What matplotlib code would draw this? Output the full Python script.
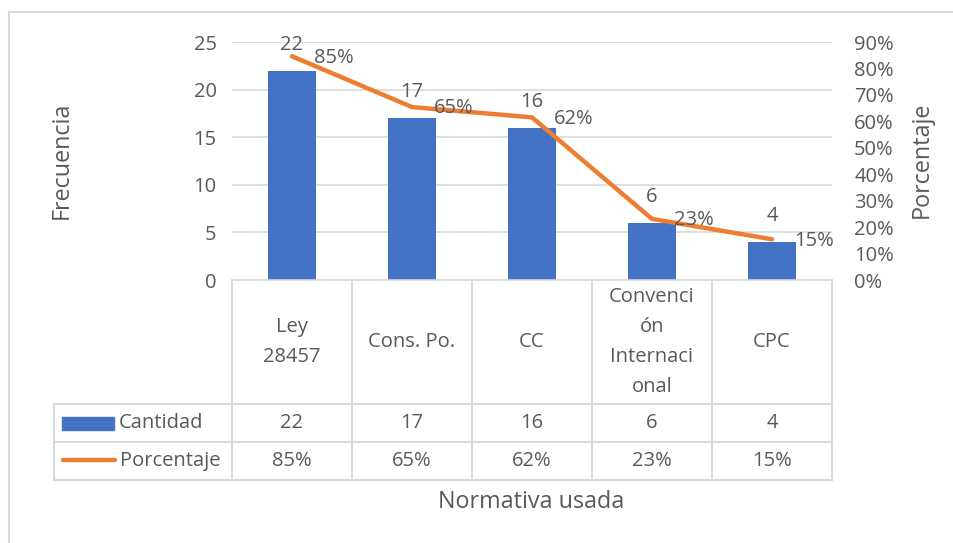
import numpy as np
import matplotlib.pyplot as plt
from matplotlib.lines import Line2D
from matplotlib.patches import Rectangle
from matplotlib.ticker import FuncFormatter

# data
categorias = ['Ley\n28457', 'Cons. Po.', 'CC', 'Convenci\nón\nInternaci\nonal', 'CPC']
cantidad = [22, 17, 16, 6, 4]
porcentaje = [0.846, 0.654, 0.615, 0.231, 0.154]
etiq_cant = ['22', '17', '16', '6', '4']
etiq_pct = ['85%', '65%', '62%', '23%', '15%']

AZUL = '#4472C4'
NARANJA = '#ED7D31'
GRIS_TXT = '#595959'
GRIS_LIN = '#D9D9D9'
FS = 14.5      # ticks, labels, table
FS_TIT = 16.8  # axis titles

plt.rcParams['font.family'] = ['Open Sans', 'DejaVu Sans']
plt.rcParams['text.color'] = GRIS_TXT

W, H = 954, 543
fig = plt.figure(figsize=(W / 100, H / 100), dpi=100)


def fx(px):
    return px / W


def fy(py):
    return 1 - py / H


# outer chart frame (left and top edges visible)
fig.add_artist(Line2D([fx(9), fx(9)], [fy(12), 0], color=GRIS_LIN, lw=1.5))
fig.add_artist(Line2D([fx(9), 1], [fy(12), fy(12)], color=GRIS_LIN, lw=1.5))

# main plot
ax = fig.add_axes([fx(232), fy(280), fx(832) - fx(232), fy(42) - fy(280)])
x = np.arange(len(categorias))
ax.bar(x, cantidad, width=0.4, color=AZUL, zorder=2)
ax.set_xlim(-0.5, len(categorias) - 0.5)
ax.set_ylim(0, 25)
ax.set_yticks(range(0, 26, 5))
ax.grid(axis='y', color=GRIS_LIN, lw=1.2, zorder=0)
ax.set_xticks([])
for s in ['top', 'right', 'left']:
    ax.spines[s].set_visible(False)
ax.spines['bottom'].set_color(GRIS_LIN)
ax.spines['bottom'].set_linewidth(1.2)
ax.tick_params(axis='y', length=0, labelsize=FS, labelcolor=GRIS_TXT, pad=11)

for xi, v, t in zip(x, cantidad, etiq_cant):
    ax.annotate(t, (xi, v), xytext=(0, 18.5), textcoords='offset points',
                ha='center', va='center', fontsize=FS, color=GRIS_TXT, zorder=5)

ax2 = ax.twinx()
ax2.plot(x, porcentaje, color=NARANJA, lw=3.2, solid_capstyle='round', zorder=3)
ax2.set_ylim(0, 0.9)
ax2.set_yticks(np.arange(0, 0.91, 0.1))
ax2.yaxis.set_major_formatter(FuncFormatter(lambda v, p: f'{v * 100:.0f}%'))
for s in ['top', 'right', 'left', 'bottom']:
    ax2.spines[s].set_visible(False)
ax2.tick_params(axis='y', length=0, labelsize=FS, labelcolor=GRIS_TXT, pad=16)

for xi, v, t in zip(x, porcentaje, etiq_pct):
    ax2.annotate(t, (xi, v), xytext=(16, -1), textcoords='offset points',
                 ha='left', va='center', fontsize=FS, color=GRIS_TXT, zorder=5)

# axis titles
fig.text(fx(62), fy(160), 'Frecuencia', rotation=90, ha='center', va='center',
         fontsize=FS_TIT, color=GRIS_TXT)
fig.text(fx(922), fy(160), 'Porcentaje', rotation=90, ha='center', va='center',
         fontsize=FS_TIT, color=GRIS_TXT)
fig.text(fx(531), fy(502), 'Normativa usada', ha='center', va='center',
         fontsize=FS_TIT, color=GRIS_TXT)

# data table below the plot (rows in pixel heights, columns in category units)
leg_w = 178 / 120
tax = fig.add_axes([fx(54), fy(480), fx(832) - fx(54), fy(280) - fy(480)])
tax.set_xlim(-0.5 - leg_w, len(categorias) - 0.5)
tax.set_ylim(0, 200)
tax.axis('off')
r1, r2 = 38, 76  # row boundaries from bottom
kw = dict(color=GRIS_LIN, lw=1.5, clip_on=False)
for xb in np.arange(len(categorias) + 1) - 0.5:
    tax.plot([xb, xb], [0, 200], **kw)
tax.plot([-0.5 - leg_w] * 2, [0, r2], **kw)
for yb in [0, r1, r2]:
    tax.plot([-0.5 - leg_w, len(categorias) - 0.5], [yb, yb], **kw)

for xi, cat in zip(x, categorias):
    tax.text(xi, (r2 + 200) / 2, cat, ha='center', va='center', fontsize=FS,
             color=GRIS_TXT, linespacing=1.68)
for xi, a, b in zip(x, etiq_cant, etiq_pct):
    tax.text(xi, (r1 + r2) / 2, a, ha='center', va='center', fontsize=FS, color=GRIS_TXT)
    tax.text(xi, r1 / 2, b, ha='center', va='center', fontsize=FS, color=GRIS_TXT)

# legend keys in the table
x0 = -0.5 - leg_w
tax.add_patch(Rectangle((x0 + 8 / 120, (r1 + r2) / 2 - 6.5), 52 / 120, 13,
                        color=AZUL, clip_on=False))
tax.plot([x0 + 9 / 120, x0 + 61 / 120], [r1 / 2 + 1, r1 / 2 + 1], color=NARANJA,
         lw=3.2, solid_capstyle='round', clip_on=False)
tax.text(x0 + 65 / 120, (r1 + r2) / 2, 'Cantidad', ha='left', va='center',
         fontsize=FS, color=GRIS_TXT)
tax.text(x0 + 66 / 120, r1 / 2, 'Porcentaje', ha='left', va='center',
         fontsize=FS, color=GRIS_TXT)

fig.savefig('out.png', dpi=100)
